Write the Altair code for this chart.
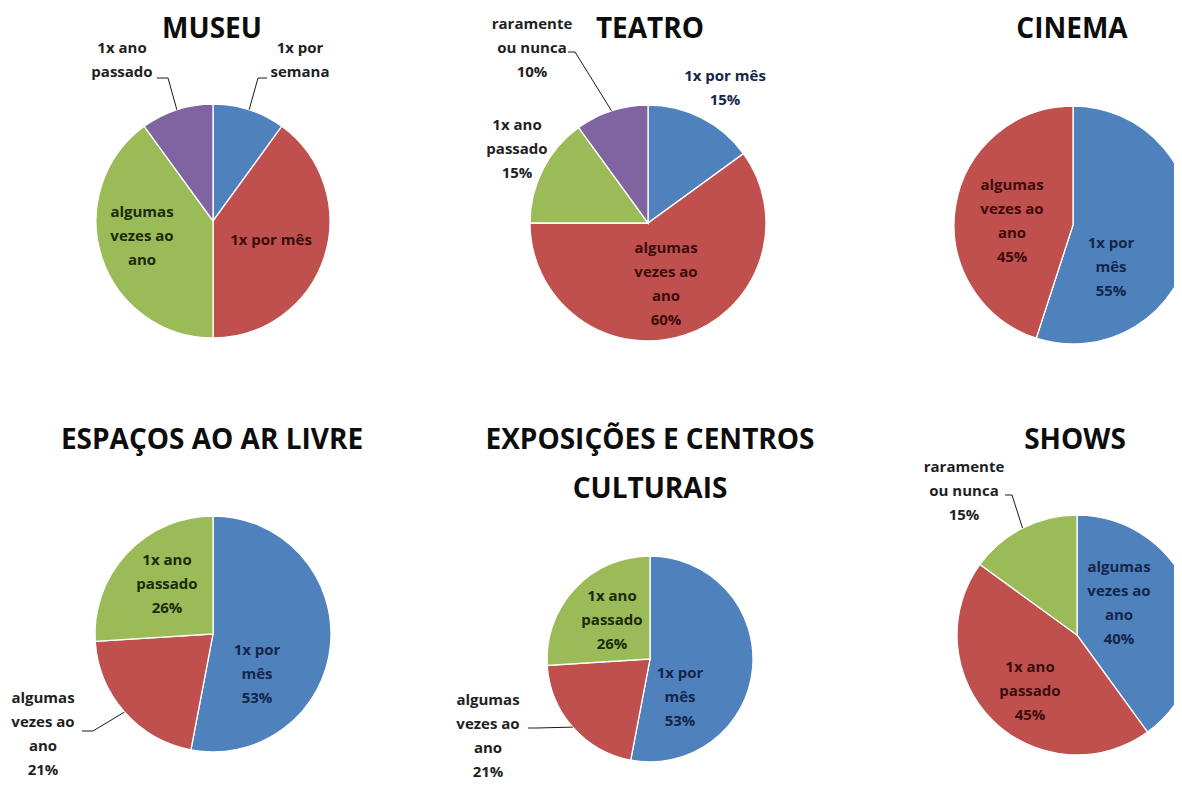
import altair as alt
import pandas as pd

# ---------------- data ----------------
panels = ["MUSEU", "TEATRO", "CINEMA", "ESPAÇOS AO AR LIVRE",
          "EXPOSIÇÕES E CENTROS CULTURAIS", "SHOWS"]
titles = ["MUSEU", "TEATRO", "CINEMA", "ESPAÇOS AO AR LIVRE",
          "EXPOSIÇÕES E CENTROS\nCULTURAIS", "SHOWS"]

museu_cats = ["1x por semana", "1x por mês", "algumas vezes ao ano", "1x ano passado"]
museu_vals = [10, 40, 40, 10]
museu_labels = ["1x por\nsemana", "1x por mês", "algumas\nvezes ao\nano", "1x ano\npassado"]

teatro_cats = ["1x por mês", "algumas vezes ao ano", "1x ano passado", "raramente ou nunca"]
teatro_vals = [15, 60, 15, 10]
teatro_labels = ["1x por mês\n15%", "algumas\nvezes ao\nano\n60%", "1x ano\npassado\n15%",
                 "raramente\nou nunca\n10%"]

cinema_cats = ["1x por mês", "algumas vezes ao ano"]
cinema_vals = [55, 45]
cinema_labels = ["1x por\nmês\n55%", "algumas\nvezes ao\nano\n45%"]

espacos_cats = ["1x por mês", "algumas vezes ao ano", "1x ano passado"]
espacos_vals = [53, 21, 26]
espacos_labels = ["1x por\nmês\n53%", "algumas\nvezes ao\nano\n21%", "1x ano\npassado\n26%"]

expos_cats = ["1x por mês", "algumas vezes ao ano", "1x ano passado"]
expos_vals = [53, 21, 26]
expos_labels = ["1x por\nmês\n53%", "algumas\nvezes ao\nano\n21%", "1x ano\npassado\n26%"]

shows_cats = ["algumas vezes ao ano", "1x ano passado", "raramente ou nunca"]
shows_vals = [40, 45, 15]
shows_labels = ["algumas\nvezes ao\nano\n40%", "1x ano\npassado\n45%", "raramente\nou nunca\n15%"]

series = {
    "MUSEU": (museu_cats, museu_vals, museu_labels),
    "TEATRO": (teatro_cats, teatro_vals, teatro_labels),
    "CINEMA": (cinema_cats, cinema_vals, cinema_labels),
    "ESPAÇOS AO AR LIVRE": (espacos_cats, espacos_vals, espacos_labels),
    "EXPOSIÇÕES E CENTROS CULTURAIS": (expos_cats, expos_vals, expos_labels),
    "SHOWS": (shows_cats, shows_vals, shows_labels),
}

# ---------------- layout (page pixel coordinates) ----------------
pie_layout = {  # centre x, centre y, radius
    "MUSEU": (213, 221, 117),
    "TEATRO": (648, 223, 118),
    "CINEMA": (1073, 225, 119),
    "ESPAÇOS AO AR LIVRE": (213, 634, 118),
    "EXPOSIÇÕES E CENTROS CULTURAIS": (650, 659, 103),
    "SHOWS": (1077, 635, 120),
}
title_layout = [(212, 30), (650, 30), (1072, 30), (212, 441), (650, 441), (1075, 441)]
label_layout = {  # centre x, y of first line
    "MUSEU": [(300, 48), (271, 240), (142, 212), (122, 48)],
    "TEATRO": [(725, 76), (666, 248), (517, 125), (532, 24)],
    "CINEMA": [(1111, 243), (1012, 185)],
    "ESPAÇOS AO AR LIVRE": [(257, 650), (43, 698), (167, 560)],
    "EXPOSIÇÕES E CENTROS CULTURAIS": [(680, 673), (488, 700), (612, 596)],
    "SHOWS": [(1119, 567), (1030, 667), (964, 467)],
}
leader_layout = {  # elbow x, elbow y, end x
    "MUSEU": [(258, 78, 267), None, None, (168, 78, 157)],
    "TEATRO": [None, None, None, (575, 52, 568)],
    "CINEMA": [None, None],
    "ESPAÇOS AO AR LIVRE": [None, (93, 731, 82), None],
    "EXPOSIÇÕES E CENTROS CULTURAIS": [None, (537, 728, 528), None],
    "SHOWS": [None, None, (1012, 495, 1005)],
}
outside_layout = {
    "MUSEU": [True, False, False, True],
    "TEATRO": [False, False, True, True],
    "CINEMA": [False, False],
    "ESPAÇOS AO AR LIVRE": [False, True, False],
    "EXPOSIÇÕES E CENTROS CULTURAIS": [False, True, False],
    "SHOWS": [False, False, True],
}

rows = []
for p in panels:
    cats, vals, labs = series[p]
    cx, cy, r = pie_layout[p]
    for i, (c, v, lab) in enumerate(zip(cats, vals, labs)):
        lx, ly = label_layout[p][i]
        ld = leader_layout[p][i]
        rows.append({
            "panel": p, "idx": i, "category": c, "value": v, "label": lab,
            "cx": cx, "cy": cy, "r": r, "lx": lx, "ly": ly,
            "outside": outside_layout[p][i],
            "has_leader": ld is not None,
            "bx": ld[0] if ld else None, "by": ld[1] if ld else None,
            "hx": ld[2] if ld else None,
        })
slices = pd.DataFrame(rows)
title_df = pd.DataFrame({
    "title": titles,
    "tx": [t[0] for t in title_layout],
    "ty": [t[1] for t in title_layout],
})

W, H = 1166, 775
xs = alt.Scale(domain=[8, 8 + W], range=[0, W])
ys = alt.Scale(domain=[8, 8 + H], range=[0, H])
slice_colors = ["#4F81BD", "#C0504D", "#9BBB59", "#8064A2"]
FONT = "Open Sans"

base = alt.Chart(slices).transform_stack(
    stack="value", groupby=["panel"], sort=[alt.SortField("idx")], as_=["start", "end"]
)

arcs = base.mark_arc(stroke="white", strokeWidth=1.3).encode(
    x=alt.X("cx:Q", scale=xs, axis=None),
    y=alt.Y("cy:Q", scale=ys, axis=None),
    theta=alt.Theta("start:Q", scale=alt.Scale(domain=[0, 100], range=[0, 6.283185307179586])),
    theta2="end:Q",
    radius=alt.Radius("r:Q", scale=None),
    fill=alt.Fill("idx:N", scale=alt.Scale(domain=[0, 1, 2, 3], range=slice_colors), legend=None),
    tooltip=["panel:N", "category:N", "value:Q"],
)

leader_base = base.transform_filter("datum.has_leader").transform_calculate(
    ang="(datum.start + datum.end) / 2 / 100 * 2 * PI",
).transform_calculate(
    ex="datum.cx + datum.r * sin(datum.ang)",
    ey="datum.cy - datum.r * cos(datum.ang)",
)
leader1 = leader_base.mark_rule(color="#1a1a1a", strokeWidth=1).encode(
    x=alt.X("ex:Q", scale=xs, axis=None), y=alt.Y("ey:Q", scale=ys, axis=None),
    x2="bx:Q", y2="by:Q",
)
leader2 = leader_base.mark_rule(color="#1a1a1a", strokeWidth=1).encode(
    x=alt.X("bx:Q", scale=xs, axis=None), y=alt.Y("by:Q", scale=ys, axis=None),
    x2="hx:Q",
)

labels = base.transform_calculate(
    tkey="datum.outside ? 'out' : 'in' + datum.idx"
).mark_text(
    font=FONT, fontWeight="bold", fontSize=15, lineBreak="\n", lineHeight=24,
    align="center", baseline="middle",
).encode(
    x=alt.X("lx:Q", scale=xs, axis=None),
    y=alt.Y("ly:Q", scale=ys, axis=None),
    text="label:N",
    color=alt.Color("tkey:N", scale=alt.Scale(
        domain=["out", "in0", "in1", "in2", "in3"],
        range=["#1f1f1f", "#14264a", "#3d0c0c", "#1c2a0c", "#20163a"]), legend=None),
)

title_marks = alt.Chart(title_df).mark_text(
    font=FONT, fontWeight="bold", fontSize=28, lineBreak="\n", lineHeight=49,
    align="center", baseline="middle", color="#0d0d0d",
).encode(
    x=alt.X("tx:Q", scale=xs, axis=None),
    y=alt.Y("ty:Q", scale=ys, axis=None),
    text="title:N",
)

chart = alt.layer(arcs, leader1, leader2, labels, title_marks).resolve_scale(
    color="independent", fill="independent"
).properties(
    width=W, height=H, autosize=alt.AutoSizeParams(type="none"), padding=0,
).configure(background="white", view=alt.ViewConfig(stroke=None))

chart.save("out.html", embed_options={"renderer": "svg", "actions": False})
